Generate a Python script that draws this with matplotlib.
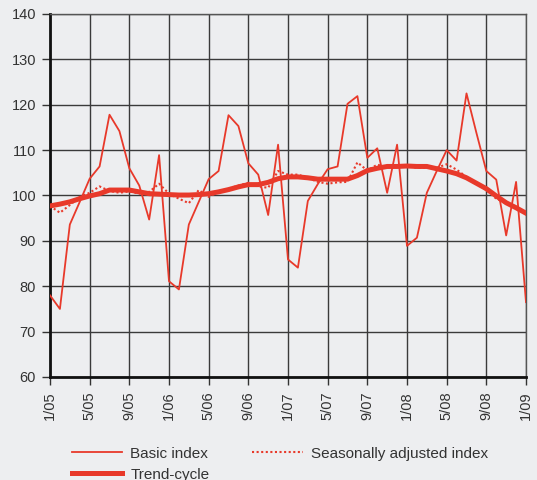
"""Basic index, seasonally adjusted index and trend-cycle, 1/05 - 1/09."""

import matplotlib

matplotlib.use("Agg")
import matplotlib.pyplot as plt
import numpy as np

# monthly values, January 2005 .. January 2009
basic_index = [
    78.0, 75.0, 93.6, 98.6, 103.7, 106.4, 117.8, 114.2, 106.0, 102.2, 94.7, 108.9,
    81.1, 79.3, 93.6, 98.6, 103.6, 105.4, 117.7, 115.3, 107.1, 104.6, 95.7, 111.2,
    85.9, 84.1, 98.8, 102.5, 105.8, 106.4, 120.2, 121.9, 108.3, 110.4, 100.6, 111.2,
    88.9, 90.7, 100.6, 105.4, 110.0, 107.7, 122.5, 113.8, 105.4, 103.5, 91.2, 103.0,
    76.5,
]
seasonally_adjusted = [
    97.7, 96.2, 97.9, 99.7, 100.6, 102.0, 101.0, 100.6, 100.9, 100.4, 100.8, 102.6,
    100.4, 99.3, 98.3, 101.2, 99.7, 100.8, 101.5, 102.2, 102.8, 102.0, 101.7, 105.4,
    104.6, 104.6, 103.9, 103.0, 102.6, 102.9, 103.0, 107.3, 105.5, 106.8, 106.2, 106.6,
    106.5, 106.1, 106.1, 106.1, 106.9, 105.7, 104.1, 102.6, 101.2, 99.3, 98.3, 97.5,
    96.1,
]
trend_cycle = [
    97.7, 98.1, 98.6, 99.3, 99.9, 100.4, 101.2, 101.2, 101.2, 100.8, 100.4, 100.3,
    100.2, 100.1, 100.1, 100.2, 100.4, 100.8, 101.3, 101.9, 102.4, 102.4, 102.9, 103.7,
    104.1, 104.1, 103.9, 103.6, 103.6, 103.6, 103.6, 104.4, 105.5, 106.0, 106.4, 106.4,
    106.5, 106.4, 106.4, 105.9, 105.4, 104.8, 103.9, 102.7, 101.5, 99.9, 98.4, 97.3,
    96.1,
]
tick_labels = ["1/05", "5/05", "9/05", "1/06", "5/06", "9/06", "1/07",
               "5/07", "9/07", "1/08", "5/08", "9/08", "1/09"]

BG = "#edeef0"
RED = "#e8392a"


def main() -> None:
    plt.rcParams["font.family"] = ["Liberation Sans", "DejaVu Sans"]

    fig = plt.figure(figsize=(5.37, 4.8), dpi=100, facecolor=BG)
    ax = fig.add_axes([50 / 537, 1 - 377 / 480, 476 / 537, 363 / 480], facecolor=BG)

    months = np.arange(len(basic_index))
    ax.plot(months, basic_index, color=RED, lw=1.3, label="Basic index", zorder=3)
    ax.plot(months, trend_cycle, color=RED, lw=3.6, label="Trend-cycle", zorder=4,
            solid_joinstyle="round")
    ax.plot(months, seasonally_adjusted, color=RED, lw=1.5, ls=(0, (1, 1.2)),
            label="Seasonally adjusted index", zorder=3)

    ax.set_xlim(0, len(basic_index) - 1)
    ax.set_ylim(60, 140)
    ax.set_yticks(np.arange(60, 141, 10))
    ax.set_xticks(months[::4])
    ax.set_xticklabels(tick_labels, rotation=90)

    ax.grid(True, color="#3a3a3a", lw=1.0, zorder=1)
    ax.set_axisbelow(True)
    for side in ["top", "right"]:
        ax.spines[side].set_color("#555555")
        ax.spines[side].set_linewidth(1.0)
    for side in ["left", "bottom"]:
        ax.spines[side].set_color("#111111")
        ax.spines[side].set_linewidth(2.0)

    ax.tick_params(axis="both", direction="out", length=6, width=1.0,
                   color="#333333", labelcolor="#333333", labelsize=10.5, pad=4)

    h, l = ax.get_legend_handles_labels()
    fig.legend(h, l, loc="upper left", bbox_to_anchor=(64 / 537, 1 - 439 / 480),
               ncol=2, frameon=False, fontsize=11, handlelength=3.3,
               handletextpad=0.55, columnspacing=2.8, labelspacing=0.45,
               borderpad=0, labelcolor="#333333")

    fig.savefig("out.png", dpi=100, facecolor=BG)
    plt.close(fig)


if __name__ == "__main__":
    main()
